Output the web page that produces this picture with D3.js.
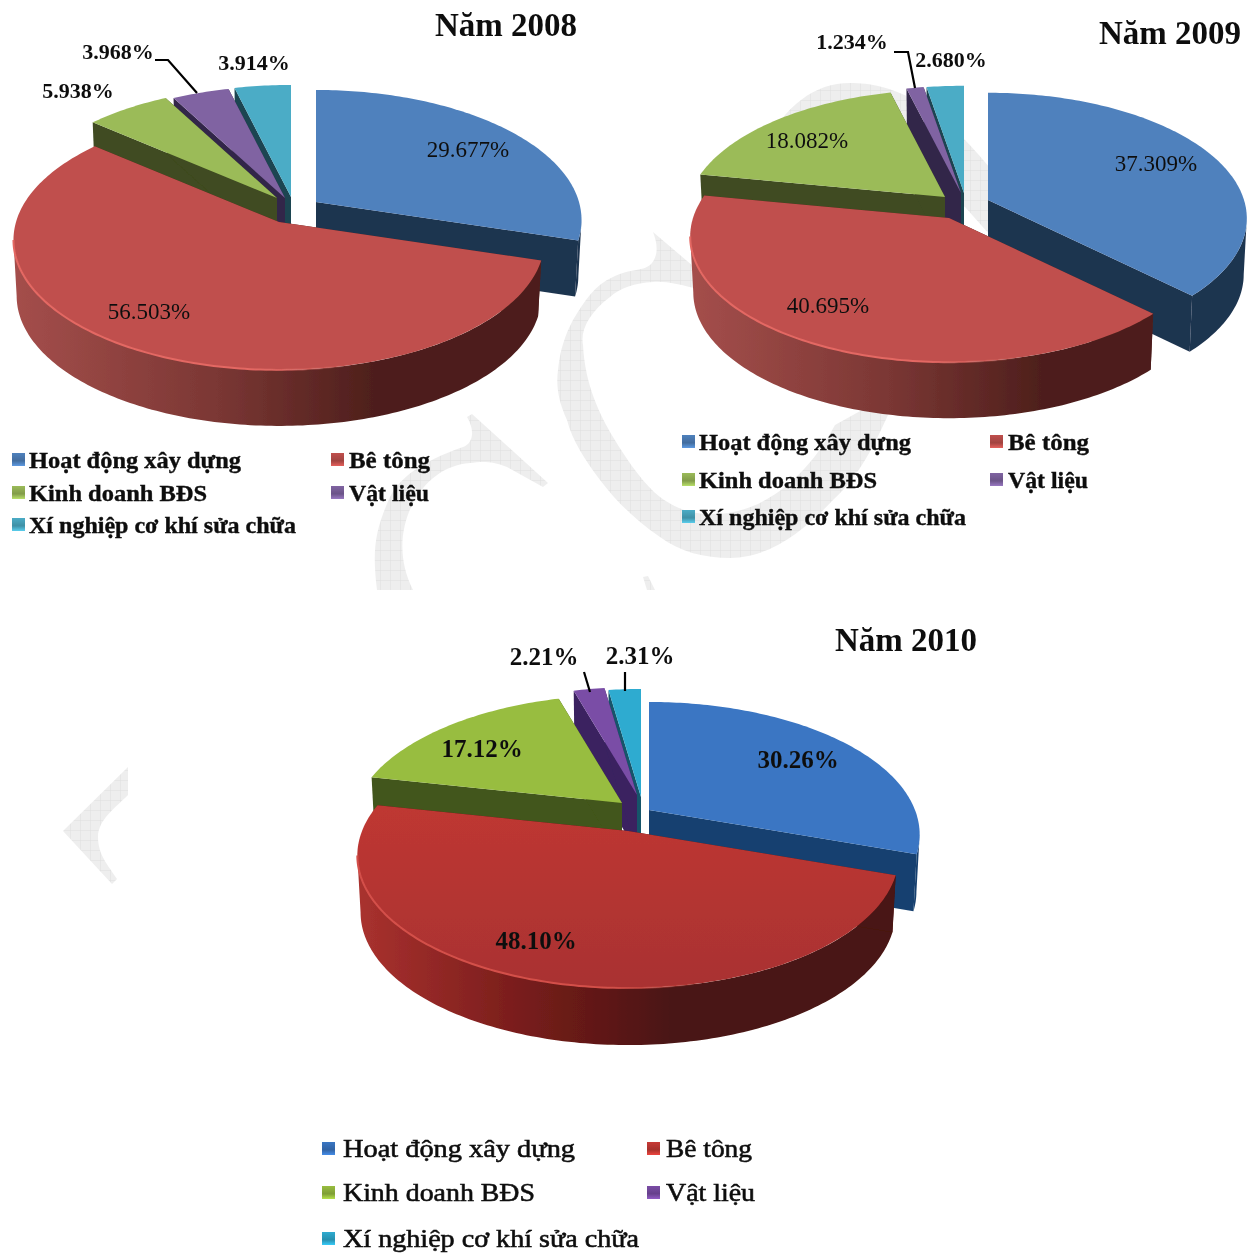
<!DOCTYPE html>
<html><head><meta charset="utf-8">
<script src="https://cdn.jsdelivr.net/npm/d3@7/dist/d3.min.js"></script>
<style>html,body{margin:0;padding:0;background:#fff}svg{display:block}</style>
</head><body><svg id="c" width="1251" height="1254"></svg>
<script>
const categories = ["Hoạt động xây dựng","Bê tông","Kinh doanh BĐS","Vật liệu","Xí nghiệp cơ khí sửa chữa"];
const years = ["Năm 2008","Năm 2009","Năm 2010"];
const values2008 = [29.677,56.503,5.938,3.968,3.914];
const values2009 = [37.309,40.695,18.082,1.234,2.680];
const values2010 = [30.26,48.10,17.12,2.21,2.31];

const paletteSoft = {top:["#4f81bd","#c0504d","#9bbb59","#8064a2","#4bacc6"],
  side:["#1f3450","#4e1f1c","#3f4b20","#33264a","#1c4451"],
  wall:["#a44e4b","#7b3734","#4e1f1c"],wallStops:[0,.38,.68,1],rim:"#e4686380",rimC:"#e46863",redTop:["#c0504d","#c0504d"]};
const paletteVivid = {top:["#3a76c3","#c73a35","#98bd40","#7a4da6","#2fabd0"],
  side:["#17406f","#4a1412","#42561a","#3a2160","#15556b"],
  wall:["#a8312e","#781d1b","#4a1412"],wallStops:[0,.3,.58,1],rimC:"#d4504a",redTop:["#cb3a35","#a93230"]};

const charts = [
 {values:values2008,digits:3,title:years[0],titlePos:[506,36],pal:paletteSoft,
  cx:279,cy:222,rx:263,ry:127.5,p:.138,depth:56,
  off:[[37,-20],[0,0],[-2,-24],[6,-24],[12,-25]],
  labels:[[468,157],[149,319],[78,98],[118,59],[254,70]],labelSize:[23,23,22,22,22],labelBold:[0,0,1,1,1],
  leaders:[[[155,60],[168,60],[197,93]]],
  legend:{sx:12,tx:29,col2s:331,col2t:349,rows:[461,494,526],size:24,w:[212,81,178,80,267],bold:true}},
 {values:values2009,digits:3,title:years[1],titlePos:[1170,44],pal:paletteSoft,
  cx:949,cy:218,rx:256,ry:123,p:.147,depth:56,
  off:[[39,-18],[0,0],[-4,-21],[12,-25],[15,-25]],
  labels:[[1156,171],[828,313],[807,148],[852,49],[951,67]],labelSize:[23,23,23,22,22],labelBold:[0,0,0,1,1],
  leaders:[[[894,52],[908,52],[915,88]]],
  legend:{sx:682,tx:699,col2s:990,col2t:1008,rows:[443,481,518],size:24,w:[212,81,178,80,267],bold:true}},
 {values:values2010,digits:2,title:years[2],titlePos:[906,651],pal:paletteVivid,
  cx:628,cy:831,rx:266,ry:128,p:.185,depth:57,
  off:[[21,-21],[0,0],[-6,-28],[9,-36],[13,-34]],
  labels:[[798,768],[536,949],[482,757],[544,665],[640,664]],labelSize:[25,25,25,25,25],labelBold:[1,1,1,1,1],
  leaders:[[[584,672],[590,692]],[[625,672],[625,691]]],
  legend:{sx:322,tx:343,col2s:647,col2t:666,rows:[1150,1194,1240],size:26,w:[232,86,192,89,296],bold:false}}
];

const svg = d3.select("#c");
const defs = svg.append("defs");
const pat = defs.append("pattern").attr("id","wm").attr("width",10).attr("height",10).attr("patternUnits","userSpaceOnUse");
pat.append("rect").attr("width",10).attr("height",10).attr("fill","#eeeeee");
pat.append("path").attr("d","M0 0H10M0 0V10").attr("stroke","#dedede").attr("stroke-width",1);
const soft = defs.append("filter").attr("id","soft").attr("x","-5%").attr("y","-5%").attr("width","110%").attr("height","110%");
soft.append("feGaussianBlur").attr("stdDeviation",.6);

// background watermark fragments
const watermark = [
 "M377,590 C372,550 375,530 390,497 C400,478 420,462 463,447 C472,444 476,432 467,417 L472,414 L548,483 L543,487 L507,467 C490,460 480,462 470,463 C445,465 425,480 412,505 C400,530 398,560 413,590 Z",
 "M653,232 L700,272 L700,290 C680,284 665,281 653,282 C635,283 620,288 610,297 C590,312 580,330 583,345 C585,385 600,415 613,437 C630,465 645,485 660,497 C675,508 690,514 710,514 C750,516 800,490 835,425 L880,400 L888,415 C870,455 855,480 833,500 C805,530 770,558 730,558 C705,558 680,552 660,537 C635,520 615,500 600,480 C585,460 572,440 567,420 C558,400 556,385 558,370 C560,350 565,335 573,320 C585,300 595,285 613,277 C630,268 645,272 652,263 C658,255 658,245 653,232 Z",
 "M643,577 L648,576 L655,590 L647,590 Z",
 "M764,148 C785,105 815,83 850,83 C890,83 935,100 990,168 L990,235 L965,207 L930,190 L800,150 Z",
 "M128,767 L63,831 L112,884 L117,879 C108,865 98,855 98,837 C98,820 115,808 128,795 Z"
];
const root = svg.append("g").attr("filter","url(#soft)");
root.append("g").selectAll("path").data(watermark).join("path").attr("d",d=>d).attr("fill","url(#wm)");

const line = d3.line();
const serif = "'Liberation Serif','Times New Roman',serif";
const pie = d3.pie().sort(null).value(d=>d);

charts.forEach((c,ci)=>{
  const arcs = pie(c.values);
  const g = root.append("g");
  const horizon = Math.acos(-c.p);
  const project = (t,o)=>{
    const ux=Math.sin(t), uy=-Math.cos(t), w=1/(1-c.p*uy);
    return [c.cx+o[0]+c.rx*ux*w, c.cy+o[1]+c.ry*uy*w];
  };
  const lower = (q,o)=>[q[0]-(q[0]-c.cx-o[0])*.012, q[1]+c.depth];
  const samples = (a,b)=>{const n=Math.max(2,Math.ceil((b-a)/(Math.PI/180)));return d3.range(n+1).map(i=>a+(b-a)*i/n);};

  const wallId="wall"+ci, rimId="rim"+ci, redId="red"+ci;
  const wg=defs.append("linearGradient").attr("id",wallId).attr("gradientUnits","userSpaceOnUse")
    .attr("x1",c.cx-c.rx).attr("x2",c.cx+c.rx).attr("y1",0).attr("y2",0);
  [c.pal.wall[0],c.pal.wall[1],c.pal.wall[2],c.pal.wall[2]].forEach((col,k)=>wg.append("stop").attr("offset",c.pal.wallStops[k]).attr("stop-color",col));
  const rg=defs.append("linearGradient").attr("id",rimId).attr("gradientUnits","userSpaceOnUse")
    .attr("x1",c.cx-c.rx).attr("x2",c.cx+c.rx).attr("y1",0).attr("y2",0);
  [[0,c.pal.rimC,1],[.45,c.pal.rimC,1],[.65,c.pal.rimC,0],[1,c.pal.rimC,0]].forEach(s=>rg.append("stop").attr("offset",s[0]).attr("stop-color",s[1]).attr("stop-opacity",s[2]));
  const tg=defs.append("linearGradient").attr("id",redId).attr("gradientUnits","userSpaceOnUse")
    .attr("x1",0).attr("x2",0).attr("y1",c.cy-c.ry).attr("y2",c.cy+c.ry/(1-c.p));
  c.pal.redTop.forEach((col,k)=>tg.append("stop").attr("offset",k).attr("stop-color",col));

  // back slices first, the front slice last
  [4,3,2,0,1].forEach(i=>{
    const a=arcs[i], o=c.off[i], apex=[c.cx+o[0],c.cy+o[1]];
    const s=g.append("g");
    const face=(t)=>{const q=project(t,o);return [apex,q,lower(q,o),[apex[0],apex[1]+c.depth]];};
    const f0=Math.max(a.startAngle,horizon), f1=Math.min(a.endAngle,2*Math.PI-horizon);
    if(f1>f0){
      const up=samples(f0,f1).map(t=>project(t,o));
      const lo=up.map(q=>lower(q,o)).reverse();
      s.append("path").attr("d",line(up.concat(lo))+"Z").attr("fill",i===1?`url(#${wallId})`:c.pal.side[i]);
    }
    s.append("path").attr("d",line(face(a.startAngle))+"Z").attr("fill",c.pal.side[i]);
    s.append("path").attr("d",line(face(a.endAngle))+"Z").attr("fill",c.pal.side[i]);
    const top=[apex].concat(samples(a.startAngle,a.endAngle).map(t=>project(t,o)));
    s.append("path").attr("d",line(top)+"Z").attr("fill",i===1?`url(#${redId})`:c.pal.top[i]);
    if(i===1){
      s.append("path").attr("d",line(samples(f0,f1).map(t=>project(t,o)))).attr("fill","none")
       .attr("stroke",`url(#${rimId})`).attr("stroke-width",2);
    }
  });

  // leaders
  g.append("g").selectAll("path").data(c.leaders).join("path")
    .attr("d",d=>line(d)).attr("fill","none").attr("stroke","#000").attr("stroke-width",2.2);

  // value labels
  g.append("g").selectAll("text").data(c.values).join("text")
    .attr("x",(d,i)=>c.labels[i][0]).attr("y",(d,i)=>c.labels[i][1])
    .attr("text-anchor","middle").attr("font-family",serif)
    .attr("font-size",(d,i)=>c.labelSize[i]).attr("font-weight",(d,i)=>c.labelBold[i]?"bold":"normal")
    .attr("fill","#111").text(d=>d.toFixed(c.digits)+"%");

  // title
  g.append("text").attr("x",c.titlePos[0]).attr("y",c.titlePos[1]).attr("text-anchor","middle")
    .attr("font-family",serif).attr("font-weight","bold").attr("font-size",33).attr("fill","#111").text(c.title);

  // legend
  const L=c.legend;
  const place=[[L.sx,L.tx,L.rows[0]],[L.col2s,L.col2t,L.rows[0]],[L.sx,L.tx,L.rows[1]],[L.col2s,L.col2t,L.rows[1]],[L.sx,L.tx,L.rows[2]]];
  categories.forEach((name,i)=>{
    const gid=`sw${ci}_${i}`, gr=defs.append("linearGradient").attr("id",gid).attr("x1",0).attr("x2",0).attr("y1",0).attr("y2",1);
    gr.append("stop").attr("offset",0).attr("stop-color",c.pal.top[i]);
    gr.append("stop").attr("offset",.6).attr("stop-color",d3.color(c.pal.top[i]).darker(.5));
    gr.append("stop").attr("offset",1).attr("stop-color",d3.color(c.pal.top[i]).brighter(.5));
    g.append("rect").attr("x",place[i][0]).attr("y",place[i][2]-8).attr("width",13).attr("height",13).attr("fill",`url(#${gid})`);
    g.append("text").attr("x",place[i][1]).attr("y",place[i][2]+7)
      .attr("font-family",serif).attr("font-size",L.size).attr("font-weight",L.bold?"bold":"normal")
      .attr("stroke","#111").attr("stroke-width",L.bold?.4:.6)
      .attr("fill","#111").attr("textLength",L.w[i]).attr("lengthAdjust","spacingAndGlyphs").text(name);
  });
});
</script></body></html>
